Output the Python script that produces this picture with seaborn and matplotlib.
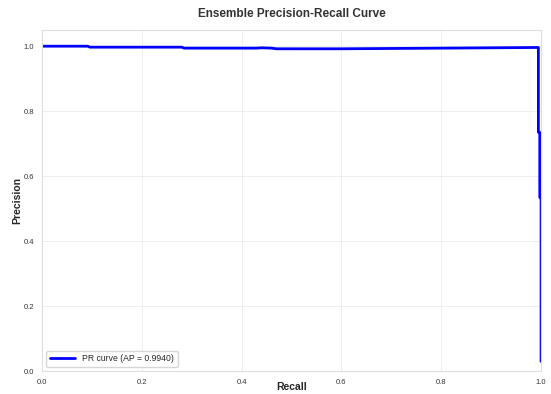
import matplotlib
matplotlib.use("Agg")
import matplotlib.pyplot as plt
import seaborn as sns

recall = [0.0, 0.092, 0.096, 0.28, 0.285, 0.43, 0.44, 0.46, 0.47, 0.6, 0.8,
          0.99, 0.9946, 0.9946, 0.9974, 0.9974, 1.0, 1.0]
precision = [1.0, 1.0, 0.997, 0.997, 0.994, 0.994, 0.995, 0.994, 0.992, 0.992,
             0.994, 0.996, 0.996, 0.735, 0.735, 0.535, 0.53, 0.03]
ap_score = 0.9940

sns.set_style("whitegrid")
plt.rcParams["font.family"] = ["Liberation Sans", "DejaVu Sans"]

fig = plt.figure(figsize=(5.51, 3.94), dpi=100)
ax = fig.add_axes([0.076, 0.058, 0.906, 0.866])

sns.lineplot(x=recall, y=precision, sort=False, estimator=None,
             color="blue", linewidth=2, ax=ax,
             label=f"PR curve (AP = {ap_score:.4f})")

ax.set_xlim(0, 1)
ax.set_ylim(0, 1.05)
ax.set_xticks([0, 0.2, 0.4, 0.6, 0.8, 1.0])
ax.set_yticks([0, 0.2, 0.4, 0.6, 0.8, 1.0])
ax.tick_params(labelsize=5.5, colors="#333333", pad=2)
ax.grid(color="#ebebeb", linewidth=0.6)
for s in ax.spines.values():
    s.set_color("#dddddd")
    s.set_linewidth(0.8)

ax.set_xlabel("Recall", fontsize=7.5, fontweight="bold")
ax.xaxis.set_label_coords(0.5, -0.033)
ax.set_ylabel("Precision", fontsize=7.5, fontweight="bold")
ax.yaxis.set_label_coords(-0.04, 0.5)
ax.set_title("Ensemble Precision-Recall Curve", fontsize=8.5,
             fontweight="bold", color="#333333", pad=9)
ax.legend(loc="lower left", fontsize=6.2, frameon=True, handlelength=3)

fig.savefig("out.png", dpi=100)
